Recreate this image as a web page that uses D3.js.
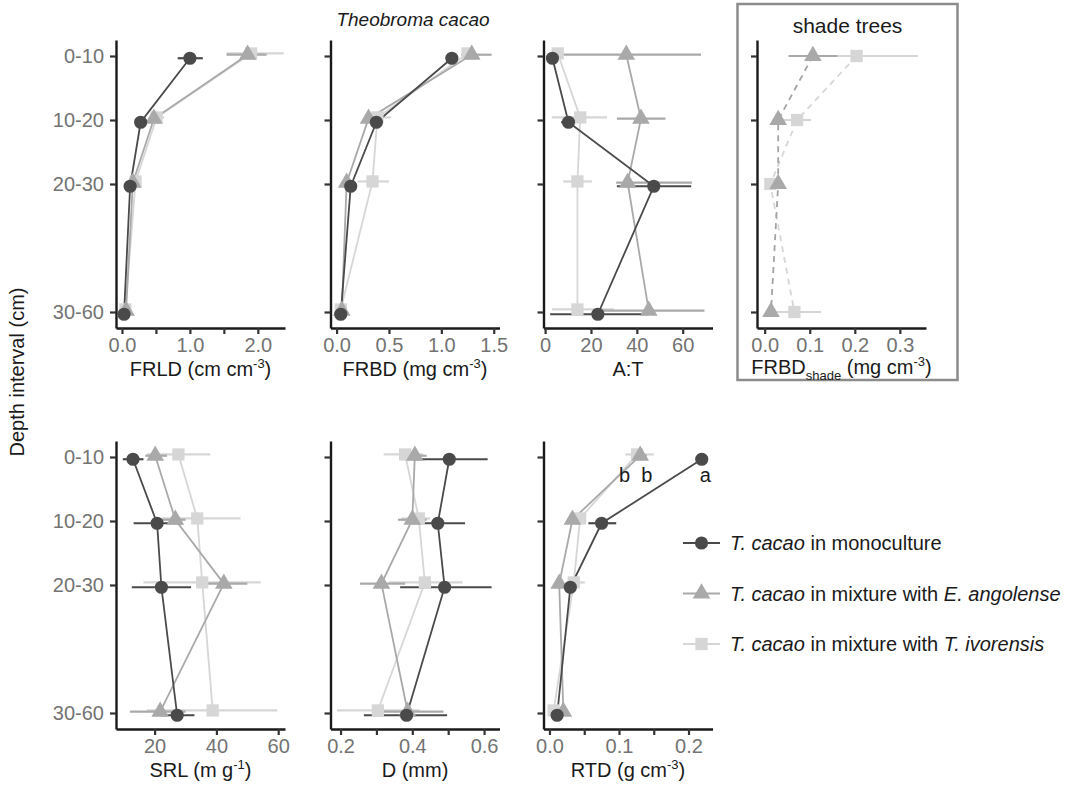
<!DOCTYPE html>
<html lang="en">
<head>
<meta charset="utf-8" />
<title>Theobroma cacao root traits by soil depth</title>
<script src="https://d3js.org/d3.v7.min.js"></script>
<style>
    body { margin: 0; background: #fff; }
    svg text { font-family: "Liberation Sans", Arial, Helvetica, sans-serif; }
    .tick text { fill: #737373; font-size: 20px; }
    .axis path.domain { stroke: #1a1a1a; stroke-width: 2.4px; }
    .axis .tick line { stroke: #333; stroke-width: 2.2px; }
</style>
</head>
<body>
<script>
    // depth intervals (cm), drawn at their mid depth
    var depthLabels = ["0-10", "10-20", "20-30", "30-60"];
    var depthMid = [5, 15, 25, 45];

    // each value is [mean, lower, upper]
    // FRLD (cm cm-3)
    var frldMono = [[1.0, 0.82, 1.19], [0.275, 0.22, 0.33], [0.12, 0.09, 0.15], [0.03, 0.01, 0.05]];
    var frldAng  = [[1.85, 1.54, 2.13], [0.47, 0.40, 0.55], [0.16, 0.12, 0.20], [0.06, 0.03, 0.09]];
    var frldIvo  = [[1.9, 1.54, 2.38], [0.51, 0.42, 0.62], [0.20, 0.15, 0.25], [0.05, 0.02, 0.08]];

    // FRBD (mg cm-3)
    var frbdMono = [[1.10, 1.08, 1.12], [0.38, 0.35, 0.41], [0.135, 0.11, 0.16], [0.04, 0.02, 0.06]];
    var frbdAng  = [[1.29, 1.19, 1.48], [0.305, 0.27, 0.34], [0.096, 0.07, 0.12], [0.05, 0.03, 0.07]];
    var frbdIvo  = [[1.25, 1.20, 1.30], [0.39, 0.30, 0.52], [0.343, 0.20, 0.50], [0.04, 0.02, 0.06]];

    // A:T ratio
    var atMono = [[3.2, 1.0, 5.5], [10.2, 7.0, 13.0], [47.4, 31.3, 63.7], [23.0, 2.2, 44.5]];
    var atAng  = [[35.4, 3.5, 68.0], [41.8, 31.3, 52.5], [36.0, 31.0, 64.0], [45.2, 22.0, 69.5]];
    var atIvo  = [[5.5, 3.0, 8.0], [15.3, 2.9, 27.0], [14.1, 7.9, 20.4], [14.1, 3.0, 30.0]];

    // FRBD of the shade trees (mg cm-3)
    var shadeAng = [[0.107, 0.053, 0.161], [0.030, 0.020, 0.040], [0.030, 0.020, 0.040], [0.014, 0.005, 0.020]];
    var shadeIvo = [[0.204, 0.070, 0.340], [0.072, 0.035, 0.103], [0.0126, 0.005, 0.020], [0.066, 0.013, 0.125]];

    // SRL (m g-1)
    var srlMono = [[13.0, 9.7, 16.4], [20.8, 13.2, 28.9], [22.2, 12.6, 31.8], [27.3, 21.8, 32.9]];
    var srlAng  = [[20.2, 17.0, 24.0], [26.7, 21.0, 30.0], [42.4, 35.0, 50.0], [21.8, 12.0, 30.0]];
    var srlIvo  = [[27.7, 17.5, 38.0], [33.8, 22.4, 47.8], [35.4, 16.4, 54.3], [38.8, 17.5, 59.7]];

    // D (mm)
    var dMono = [[0.503, 0.403, 0.610], [0.471, 0.400, 0.547], [0.490, 0.366, 0.621], [0.384, 0.265, 0.497]];
    var dAng  = [[0.407, 0.370, 0.440], [0.400, 0.360, 0.440], [0.314, 0.254, 0.380], [0.387, 0.300, 0.487]];
    var dIvo  = [[0.380, 0.320, 0.430], [0.418, 0.370, 0.450], [0.435, 0.335, 0.540], [0.304, 0.190, 0.420]];

    // RTD (g cm-3)
    var rtdMono = [[0.219, 0.217, 0.221], [0.075, 0.056, 0.096], [0.030, 0.027, 0.033], [0.011, 0.009, 0.013]];
    var rtdAng  = [[0.1305, 0.120, 0.140], [0.033, 0.030, 0.036], [0.014, 0.012, 0.016], [0.020, 0.017, 0.023]];
    var rtdIvo  = [[0.126, 0.109, 0.150], [0.044, 0.035, 0.050], [0.035, 0.025, 0.051], [0.006, 0.003, 0.009]];

    // significance letters at 0-10 cm in RTD (mono, ang, ivo)
    var rtdLetters = ["a", "b", "b"];
    var rtdLetterX = [0.224, 0.108, 0.140];

    var seriesKeys = ["mono", "ang", "ivo"];
    var seriesColor = { mono: "#4a4a4a", ang: "#a9a9a9", ivo: "#d6d6d6" };
    var seriesShape = { mono: d3.symbolCircle, ang: d3.symbolTriangle, ivo: d3.symbolSquare };
    var seriesSize = { mono: 135, ang: 135, ivo: 150 };
    var dodge = { mono: 0.35, ang: -0.2, ivo: -0.4 };   // small vertical dodge, in cm

    var legendLabels = [
        [["T. cacao", true], [" in monoculture", false]],
        [["T. cacao", true], [" in mixture with ", false], ["E. angolense", true]],
        [["T. cacao", true], [" in mixture with ", false], ["T. ivorensis", true]]
    ];

    var width = 1071, height = 787;
    var svg = d3.select("body").append("svg")
        .attr("width", width)
        .attr("height", height);

    var rowTop = [40, 441];
    var colLeft = [116, 330.5, 543.5, 757];
    var panelW = 169, panelH = 288;

    var y = d3.scaleLinear().domain([2.5, 47.5]).range([0, panelH]);

    var panels = [
        { row: 0, col: 0, data: { mono: frldMono, ang: frldAng, ivo: frldIvo }, dom: [-0.088, 2.4],
          ticks: [0, 0.5, 1, 1.5, 2], show: [0, 1, 2], fmt: ".1f",
          title: [["FRLD (cm cm"], ["-3", "sup"], [")"]] },
        { row: 0, col: 1, data: { mono: frbdMono, ang: frbdAng, ivo: frbdIvo }, dom: [-0.058, 1.555],
          ticks: [0, 0.5, 1, 1.5], show: [0, 0.5, 1, 1.5], fmt: ".1f",
          title: [["FRBD (mg cm"], ["-3", "sup"], [")"]] },
        { row: 0, col: 2, data: { mono: atMono, ang: atAng, ivo: atIvo }, dom: [-0.7, 73],
          ticks: [0, 20, 40, 60], show: [0, 20, 40, 60], fmt: "d",
          title: [["A:T"]] },
        { row: 0, col: 3, data: { ang: shadeAng, ivo: shadeIvo }, dom: [-0.017, 0.358], dashed: true,
          ticks: [0, 0.1, 0.2, 0.3], show: [0, 0.1, 0.2, 0.3], fmt: ".1f",
          title: [["FRBD"], ["shade", "sub"], [" (mg cm"], ["-3", "sup"], [")"]] },
        { row: 1, col: 0, data: { mono: srlMono, ang: srlAng, ivo: srlIvo }, dom: [7.5, 62.2],
          ticks: [20, 40, 60], show: [20, 40, 60], fmt: "d",
          title: [["SRL (m g"], ["-1", "sup"], [")"]] },
        { row: 1, col: 1, data: { mono: dMono, ang: dAng, ivo: dIvo }, dom: [0.172, 0.643],
          ticks: [0.2, 0.3, 0.4, 0.5, 0.6], show: [0.2, 0.4, 0.6], fmt: ".1f",
          title: [["D (mm)"]] },
        { row: 1, col: 2, data: { mono: rtdMono, ang: rtdAng, ivo: rtdIvo }, dom: [-0.0086, 0.2345],
          ticks: [0, 0.05, 0.1, 0.15, 0.2], show: [0, 0.1, 0.2], fmt: ".1f",
          title: [["RTD (g cm"], ["-3", "sup"], [")"]], letters: true }
    ];

    function writeTitle(sel, parts) {
        parts.forEach(function (p, i) {
            var t = sel.append("tspan").text(p[0]);
            if (p[1] === "sup") t.attr("font-size", 13).attr("dy", -8);
            if (p[1] === "sub") t.attr("font-size", 13).attr("dy", 6);
            // back to the baseline after a raised or lowered piece
            if (i > 0 && !p[1]) {
                if (parts[i - 1][1] === "sup") t.attr("dy", 8);
                if (parts[i - 1][1] === "sub") t.attr("dy", -6);
            }
        });
    }

    // shade trees box
    svg.append("rect")
        .attr("x", 737.5).attr("y", 4)
        .attr("width", 220).attr("height", 376)
        .attr("fill", "none")
        .attr("stroke", "#8c8c8c")
        .attr("stroke-width", 2.5);

    svg.append("text")
        .attr("x", 847.5).attr("y", 33)
        .attr("text-anchor", "middle")
        .attr("font-size", 21)
        .attr("fill", "#1a1a1a")
        .text("shade trees");

    svg.append("text")
        .attr("x", 413).attr("y", 26)
        .attr("text-anchor", "middle")
        .attr("font-size", 19)
        .attr("font-style", "italic")
        .attr("fill", "#1a1a1a")
        .text("Theobroma cacao");

    svg.append("text")
        .attr("transform", "translate(24,372) rotate(-90)")
        .attr("text-anchor", "middle")
        .attr("font-size", 20)
        .attr("fill", "#1a1a1a")
        .text("Depth interval (cm)");

    panels.forEach(function (p) {
        var g = svg.append("g")
            .attr("transform", "translate(" + colLeft[p.col] + "," + rowTop[p.row] + ")");
        var x = d3.scaleLinear().domain(p.dom).range([0, panelW]);
        var f = d3.format(p.fmt);

        var xAxis = d3.axisBottom(x)
            .tickValues(p.ticks)
            .tickSizeInner(6).tickSizeOuter(0).tickPadding(4)
            .tickFormat(function (v) {
                return p.show.some(function (s) { return Math.abs(s - v) < 1e-9; }) ? f(v) : "";
            });
        g.append("g").attr("class", "axis")
            .attr("transform", "translate(0," + panelH + ")")
            .call(xAxis);

        var yAxis = d3.axisLeft(y)
            .tickValues(depthMid)
            .tickSizeInner(6).tickSizeOuter(0).tickPadding(6)
            .tickFormat(function (v, i) { return p.col === 0 ? depthLabels[i] : ""; });
        g.append("g").attr("class", "axis").call(yAxis);

        g.append("text")
            .attr("x", panelW / 2)
            .attr("y", panelH + (p.col === 3 ? 46 : 48))
            .attr("text-anchor", "middle")
            .attr("font-size", 20)
            .attr("fill", "#1a1a1a")
            .call(writeTitle, p.title);

        var keys = ["ivo", "ang", "mono"].filter(function (k) { return p.data[k]; });
        var dy = function (k) { return p.dashed ? 0 : dodge[k]; };

        var line = d3.line();

        keys.forEach(function (k) {
            var vals = p.data[k];
            var c = seriesColor[k];

            g.append("g").selectAll("line")
                .data(vals)
                .join("line")
                .attr("x1", function (d) { return x(d[1]); })
                .attr("x2", function (d) { return x(d[2]); })
                .attr("y1", function (d, i) { return y(depthMid[i] + dy(k)); })
                .attr("y2", function (d, i) { return y(depthMid[i] + dy(k)); })
                .attr("stroke", c)
                .attr("stroke-width", 2.2);

            g.append("path")
                .attr("d", line(vals.map(function (d, i) { return [x(d[0]), y(depthMid[i] + dy(k))]; })))
                .attr("fill", "none")
                .attr("stroke", k === "ang" && p.dashed ? "#a3a3a3" : c)
                .attr("stroke-width", 1.8)
                .attr("stroke-dasharray", p.dashed ? "6,5" : null);
        });

        keys.forEach(function (k) {
            g.append("g").selectAll("path")
                .data(p.data[k])
                .join("path")
                .attr("d", d3.symbol().type(seriesShape[k]).size(seriesSize[k]))
                .attr("transform", function (d, i) {
                    return "translate(" + x(d[0]) + "," + y(depthMid[i] + dy(k)) + ")";
                })
                .attr("fill", seriesColor[k]);
        });

        if (p.letters) {
            g.append("g").selectAll("text")
                .data(rtdLetters)
                .join("text")
                .attr("x", function (d, i) { return x(rtdLetterX[i]); })
                .attr("y", y(8.9))
                .attr("text-anchor", "middle")
                .attr("font-size", 20)
                .attr("fill", "#1a1a1a")
                .text(function (d) { return d; });
        }
    });

    // legend
    var legend = svg.append("g").attr("transform", "translate(683,543)");
    seriesKeys.forEach(function (k, i) {
        var row = legend.append("g").attr("transform", "translate(0," + i * 50.5 + ")");
        row.append("line")
            .attr("x1", 0).attr("x2", 37)
            .attr("stroke", seriesColor[k])
            .attr("stroke-width", 2);
        row.append("path")
            .attr("d", d3.symbol().type(seriesShape[k]).size(seriesSize[k]))
            .attr("transform", "translate(18.5,0)")
            .attr("fill", seriesColor[k]);
        var t = row.append("text")
            .attr("x", 47).attr("y", 7)
            .attr("font-size", 20)
            .attr("fill", "#1a1a1a");
        legendLabels[i].forEach(function (part) {
            t.append("tspan")
                .attr("font-style", part[1] ? "italic" : null)
                .text(part[0]);
        });
    });
</script>
</body>
</html>
